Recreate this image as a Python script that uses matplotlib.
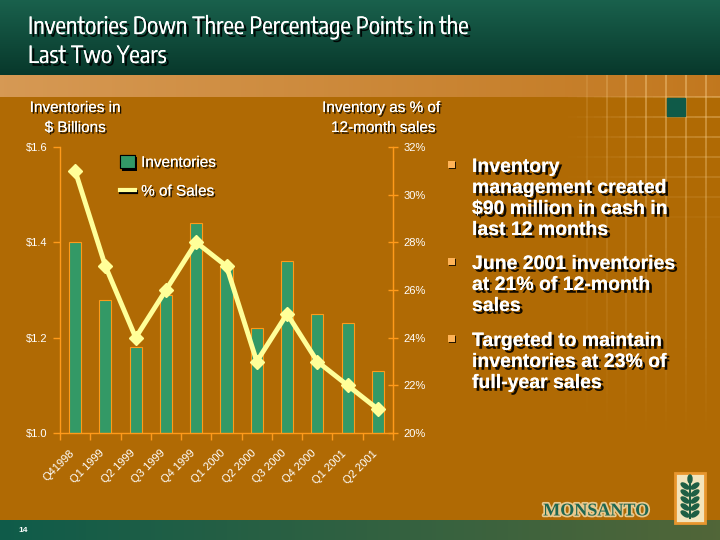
import matplotlib
matplotlib.use("Agg")
import matplotlib.pyplot as plt
import matplotlib.patheffects as pe
import matplotlib.transforms as mtransforms
from matplotlib.patches import Rectangle, Ellipse, Patch
from matplotlib.lines import Line2D
from matplotlib import font_manager
from matplotlib.font_manager import FontProperties
import numpy as np

# ---------------- data ----------------
quarters = ["Q41998", "Q1 1999", "Q2 1999", "Q3 1999", "Q4 1999", "Q1 2000",
            "Q2 2000", "Q3 2000", "Q4 2000", "Q1 2001", "Q2 2001"]
inventories = [1.40, 1.28, 1.18, 1.29, 1.44, 1.35, 1.22, 1.36, 1.25, 1.23, 1.13]
pct_of_sales = [31, 27, 24, 26, 28, 27, 23, 25, 23, 22, 21]
left_ticks = [1.0, 1.2, 1.4, 1.6]
left_tick_labels = ["$1.0", "$1.2", "$1.4", "$1.6"]
right_ticks = [20, 22, 24, 26, 28, 30, 32]
right_tick_labels = ["20%", "22%", "24%", "26%", "28%", "30%", "32%"]
title_lines = ["Inventories Down Three Percentage Points in the", "Last Two Years"]
bullets = [
    ["Inventory", "management created", "$90 million in cash in", "last 12 months"],
    ["June 2001 inventories", "at 21% of 12-month", "sales"],
    ["Targeted to maintain", "inventories at 23% of", "full-year sales"],
]

# ---------------- styles ----------------
BODY = "#B06A04"
BAR = "#339966"
LINE = "#FFFF99"
AXC = "#FF9A1A"
W, H = 720, 540

ttf = font_manager.fontManager.ttflist
names = {f.name for f in ttf}
SANS = "Liberation Sans" if "Liberation Sans" in names else "DejaVu Sans"
SERIF = "Liberation Serif" if "Liberation Serif" in names else "DejaVu Serif"
plt.rcParams["font.family"] = [SANS, "DejaVu Sans"]

# look for a narrow / condensed sans face for the title
title_fp = None
title_size = 15
for f in ttf:
    nm = f.name.lower()
    if ("narrow" in nm or "condensed" in nm) and "sans" in nm and f.weight in (400, "normal", "regular") \
            and f.style == "normal":
        title_fp = FontProperties(fname=f.fname)
        title_size = 17
        break
if title_fp is None:
    for f in ttf:
        if f.stretch in ("condensed", "semi-condensed") and f.style == "normal" and f.weight in (400, "normal"):
            title_fp = FontProperties(fname=f.fname)
            title_size = 17
            break
if title_fp is None:
    title_fp = FontProperties(family=SANS)
    title_size = 15.5

shadow = [pe.withSimplePatchShadow(offset=(1.2, -1.2), shadow_rgbFace="black", alpha=0.85), pe.Normal()]
shadow_big = [pe.withSimplePatchShadow(offset=(2, -2), shadow_rgbFace="black", alpha=0.9), pe.Normal()]

fig = plt.figure(figsize=(7.2, 5.4), dpi=100, facecolor=BODY)

# ---------------- background ----------------
bg = fig.add_axes([0, 0, 1, 1], zorder=-5)
bg.set_xlim(0, W)
bg.set_ylim(H, 0)
bg.axis("off")
bg.add_patch(Rectangle((0, 0), W, H, color=BODY))

g = np.linspace(0, 1, 100)[:, None]
top = np.array([0.10, 0.38, 0.30])
bot = np.array([0.03, 0.22, 0.17])
grad = top[None, None, :] * (1 - g[..., None]) + bot[None, None, :] * g[..., None]
grad = np.repeat(grad, 2, axis=1)
bg.imshow(grad, extent=(0, W, 75, 0), aspect="auto", zorder=1)

xg = np.linspace(0, 1, 200)[None, :]
c1 = np.array([0.84, 0.60, 0.33])
c2 = np.array([0.76, 0.47, 0.12])
band = c1[None, None, :] * (1 - xg[..., None]) + c2[None, None, :] * xg[..., None]
band = np.repeat(band, 2, axis=0)
bg.imshow(band, extent=(0, W, 97, 75), aspect="auto", zorder=1)

b1 = np.array([0.06, 0.36, 0.29])
b2 = np.array([0.32, 0.40, 0.22])
bband = b1[None, None, :] * (1 - xg[..., None]) + b2[None, None, :] * xg[..., None]
bband = np.repeat(bband, 2, axis=0)
bg.imshow(bband, extent=(0, W, H, 520), aspect="auto", zorder=1)

for xv in [587, 607, 626, 646, 666, 686, 706]:
    ys = np.linspace(75, 430, 40)
    for i in range(len(ys) - 1):
        a = 0.55 * (1 - i / (len(ys) - 1)) * min(1, (xv - 560) / 80)
        bg.plot([xv, xv], [ys[i], ys[i + 1]], color="#F4C882", lw=1.2, alpha=a, zorder=2, solid_capstyle="butt")
for yv in [97, 117, 137, 157, 177, 197, 217]:
    xs = np.linspace(560, 720, 20)
    for i in range(len(xs) - 1):
        a = 0.55 * (i / (len(xs) - 1)) * (1 - (yv - 97) / 140)
        bg.plot([xs[i], xs[i + 1]], [yv, yv], color="#F4C882", lw=1.2, alpha=a, zorder=2, solid_capstyle="butt")
bg.add_patch(Rectangle((667, 98), 18, 18, color="#0F5A48", zorder=3))

# title
for i, line in enumerate(title_lines):
    bg.text(28, 34 + 29 * i, line, color="white", fontproperties=title_fp, fontsize=title_size,
            va="baseline", ha="left", path_effects=shadow_big, zorder=5)

# axis captions
bg.text(75, 108, "Inventories in", color="white", fontsize=11, ha="center", va="center", path_effects=shadow, zorder=5)
bg.text(75, 128, "$ Billions", color="white", fontsize=11, ha="center", va="center", path_effects=shadow, zorder=5)
bg.text(381, 108, "Inventory as % of", color="white", fontsize=11, ha="center", va="center", path_effects=shadow, zorder=5)
bg.text(383, 128, "12-month sales", color="white", fontsize=11, ha="center", va="center", path_effects=shadow, zorder=5)

# bullets
starts = [172, 269, 346]
for item, y0 in zip(bullets, starts):
    bg.add_patch(Rectangle((448, y0 - 11), 7, 7, facecolor="#FFB357", edgecolor="none", zorder=5,
                           path_effects=[pe.withSimplePatchShadow(offset=(1, -1), shadow_rgbFace="black", alpha=0.8), pe.Normal()]))
    for j, line in enumerate(item):
        bg.text(472, y0 + 21 * j, line, color="white", fontsize=14, fontweight="bold",
                va="baseline", ha="left", path_effects=shadow_big, zorder=5)

bg.text(18, 531, "14", color="white", fontsize=6, fontweight="bold", va="center", ha="left", zorder=5)

# logo
bg.text(596, 511, "MONSANTO", color="#1E6650", fontsize=13, fontweight="bold", family=SERIF,
        ha="center", va="center", zorder=5,
        path_effects=[pe.withStroke(linewidth=2.5, foreground="#E9C98E")])
bg.add_patch(Rectangle((675, 473), 30, 50, facecolor="#F3E4BC", edgecolor="#E8962E", lw=2, zorder=5))
bg.plot([690, 690], [480, 518], color="#1E5E44", lw=1.5, zorder=6)
for yy in [484, 491, 498, 505, 512]:
    bg.add_patch(Ellipse((685, yy + 2), 9, 4, angle=35, color="#1E5E44", zorder=6))
    bg.add_patch(Ellipse((695, yy + 2), 9, 4, angle=-35, color="#1E5E44", zorder=6))
bg.add_patch(Ellipse((690, 479), 4, 8, color="#1E5E44", zorder=6))

# ---------------- chart ----------------
ax = fig.add_axes([60 / W, 1 - 433 / H, 333 / W, 286 / H])
ax.set_facecolor("none")
x = np.arange(len(quarters))
ax.bar(x, inventories, width=0.4, color=BAR, edgecolor=AXC, linewidth=0.8, zorder=2)
ax.set_xlim(-0.5, len(quarters) - 0.5)
ax.set_ylim(1.0, 1.6)
ax.set_yticks(left_ticks)
ax.set_yticklabels(left_tick_labels)
ax.set_xticks(x)
ax.set_xticklabels(quarters, rotation=45, ha="right", rotation_mode="anchor")
ax.set_xticks(np.arange(-0.5, len(quarters)), minor=True)
ax.tick_params(axis="x", which="major", length=0, pad=11, labelsize=8, labelcolor="white")
ax.tick_params(axis="x", which="minor", length=5, direction="out", color=AXC, width=1)
ax.tick_params(axis="y", length=5, direction="out", color=AXC, width=1, labelsize=8, labelcolor="white", pad=4)
offset = mtransforms.ScaledTranslation(-6 / 100, 0, fig.dpi_scale_trans)
for lab in ax.get_xticklabels():
    lab.set_transform(lab.get_transform() + offset)
ax.spines["top"].set_visible(False)
for s in ["left", "bottom", "right"]:
    ax.spines[s].set_color(AXC)
    ax.spines[s].set_linewidth(1)

ax2 = ax.twinx()
ax2.set_facecolor("none")
ax2.plot(x, pct_of_sales, color=LINE, lw=3.5, marker="D", markersize=7,
         markerfacecolor=LINE, markeredgecolor=LINE, zorder=3)
ax2.set_ylim(20, 32)
ax2.set_yticks(right_ticks)
ax2.set_yticklabels(right_tick_labels)
ax2.tick_params(axis="y", length=7, direction="inout", color=AXC, width=1, labelsize=8, labelcolor="white", pad=4)
ax2.spines["top"].set_visible(False)
ax2.spines["right"].set_color(AXC)
ax2.spines["left"].set_visible(False)
ax2.spines["bottom"].set_visible(False)

handles = [
    Patch(facecolor=BAR, edgecolor="black", linewidth=0.8,
          path_effects=[pe.withSimplePatchShadow(offset=(1.5, -1.5), shadow_rgbFace="black", alpha=1), pe.Normal()]),
    Line2D([0], [0], color=LINE, lw=3,
           path_effects=[pe.SimpleLineShadow(offset=(1, -1.5), shadow_color="black", alpha=1), pe.Normal()]),
]
leg = ax2.legend(handles, ["Inventories", "% of Sales"], loc="upper left",
                 bbox_to_anchor=(106 / W, 1 - 141 / H), bbox_transform=fig.transFigure,
                 frameon=False, fontsize=11, handlelength=1.0, handleheight=1.0,
                 handletextpad=0.4, labelspacing=0.9, labelcolor="white")
for t in leg.get_texts():
    t.set_path_effects(shadow)

fig.savefig("out.png", dpi=100, facecolor=BODY)
